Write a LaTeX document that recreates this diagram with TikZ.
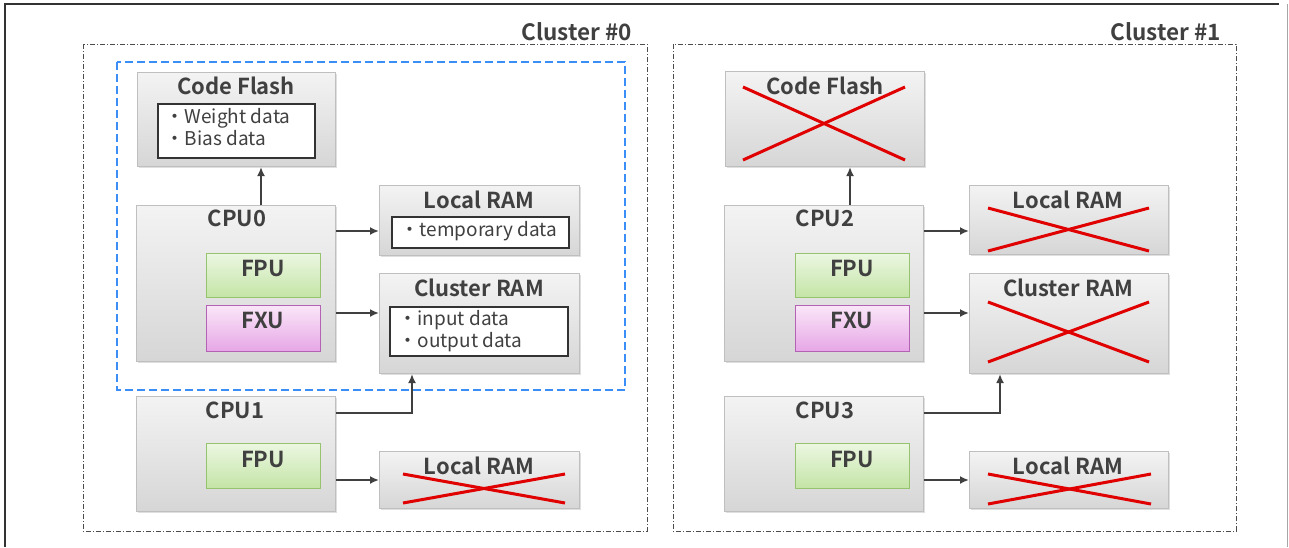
\documentclass[tikz,border=0pt]{standalone}
\usepackage{fontspec}
\setmainfont{Noto Sans CJK JP}[BoldFont={* Bold}]
\usetikzlibrary{arrows.meta,shadows}
\definecolor{txt}{HTML}{404040}
\definecolor{boxtop}{HTML}{F3F3F3}
\definecolor{boxbot}{HTML}{D6D6D6}
\definecolor{boxln}{HTML}{BFBFBF}
\definecolor{gtop}{HTML}{EBF7E1}
\definecolor{gbot}{HTML}{C4E4A6}
\definecolor{gln}{HTML}{96C46E}
\definecolor{ptop}{HTML}{FAE6F8}
\definecolor{pbot}{HTML}{E6A6E6}
\definecolor{pln}{HTML}{B462B4}
\definecolor{xred}{HTML}{E00000}
\definecolor{grpblue}{HTML}{3A8EF6}
\tikzset{
  unit/.style={draw=boxln, line width=1pt, top color=boxtop, bottom color=boxbot,
    inner sep=0pt, anchor=north west,
    drop shadow={shadow xshift=1pt, shadow yshift=-1.5pt, opacity=0.25}},
  fpubox/.style={draw=gln, line width=1pt, top color=gtop, bottom color=gbot,
    inner sep=0pt, anchor=north west},
  fxubox/.style={draw=pln, line width=1pt, top color=ptop, bottom color=pbot,
    inner sep=0pt, anchor=north west},
  inbox/.style={draw=txt!80!black, line width=2pt, fill=white, inner sep=0pt, anchor=north west},
  ttl/.style={text=txt, font=\fontsize{22}{24}\selectfont\bfseries, inner sep=0pt},
  cltl/.style={text=txt, font=\fontsize{22.5}{25}\selectfont\bfseries, inner sep=0pt, anchor=east},
  itxt/.style={text=txt, font=\fontsize{19}{22}\selectfont, inner sep=0pt, anchor=west, align=left},
  conn/.style={draw=txt, line width=2.5pt, -{Latex[length=9pt,width=8pt]}},
  xmark/.style={draw=xred, line width=3pt},
  clbox/.style={draw=black!70, line width=0.9pt, dash pattern=on 5pt off 2pt on 1pt off 2pt},
  grpbox/.style={draw=grpblue, line width=2.5pt, dash pattern=on 8pt off 4pt},
}
\begin{document}
\begin{tikzpicture}[x=1pt,y=-1pt]
\useasboundingbox (0,0) rectangle (1289,547);
% outer frame
\draw[black!80, line width=2pt] (5,547) -- (5,4) -- (1279,4);
\draw[black!35, line width=1pt] (1287,4) -- (1287,547);
% clusters
\draw[clbox] (83,44) rectangle (647,531);
\draw[clbox] (673,44) rectangle (1236,531);
\node[cltl] (c0lbl) at (632,32) {Cluster \#0};
\node[cltl] (c1lbl) at (1221,32) {Cluster \#1};
\draw[grpbox] (117,62) rectangle (625,390);

% ===== Cluster 0 =====
\node[unit, minimum width=198pt, minimum height=94pt] (cf0) at (137,72) {};
\node[ttl] (cf0t) at (236,86) {Code Flash};
\node[inbox, minimum width=157pt, minimum height=54pt] (cf0in) at (157,103) {};
\node[itxt] (cf0tx) at (165.5,127) {・Weight data\\・Bias data};

\node[unit, minimum width=199pt, minimum height=156pt] (cpu0) at (136,205) {};
\node[ttl] (cpu0t) at (237,218) {CPU0};
\node[fpubox, minimum width=114pt, minimum height=44pt] (fpu0) at (206,253) {};
\node[ttl] (fpu0t) at (263,268) {FPU};
\node[fxubox, minimum width=114pt, minimum height=46pt] (fxu0) at (206,305) {};
\node[ttl] (fxu0t) at (263,320) {FXU};

\node[unit, minimum width=200pt, minimum height=70pt] (lr0) at (379,185) {};
\node[ttl] (lr0t) at (479,200) {Local RAM};
\node[inbox, minimum width=177pt, minimum height=31pt] (lr0in) at (391,216) {};
\node[itxt] (lr0tx) at (400.5,231) {・temporary data};

\node[unit, minimum width=200pt, minimum height=100pt] (cr0) at (379,273) {};
\node[ttl] (cr0t) at (479,288) {Cluster RAM};
\node[inbox, minimum width=178pt, minimum height=49pt] (cr0in) at (389,306) {};
\node[itxt] (cr0tx) at (398.5,331) {・input data\\・output data};

\node[unit, minimum width=199pt, minimum height=115pt] (cpu1) at (136,396) {};
\node[ttl] (cpu1t) at (235,410) {CPU1};
\node[fpubox, minimum width=114pt, minimum height=45pt] (fpu1) at (206,443) {};
\node[ttl] (fpu1t) at (263,459) {FPU};

\node[unit, minimum width=200pt, minimum height=57pt] (lr1) at (379,451) {};
\node[ttl] (lr1t) at (479,466) {Local RAM};
\coordinate (lr1a) at (403,474); \coordinate (lr1b) at (565,503);
\coordinate (lr1c) at (403,503); \coordinate (lr1d) at (565,474);
\draw[xmark] (lr1a) -- (lr1b); \draw[xmark] (lr1c) -- (lr1d);

% connectors cluster 0
\draw[conn] (cpu0.north -| 261,0) -- (cf0.south -| 261,0);
\draw[conn] (cpu0.east |- 0,231) -- (lr0.west |- 0,231);
\draw[conn] (cpu0.east |- 0,313) -- (cr0.west |- 0,313);
\draw[conn] (cpu1.east |- 0,413) -| (cr0.south -| 412,0);
\draw[conn] (cpu1.east |- 0,480) -- (lr1.west |- 0,480);

% ===== Cluster 1 =====
\node[unit, minimum width=199pt, minimum height=95pt] (cf1) at (725,71) {};
\node[ttl] (cf1t) at (825,86) {Code Flash};
\coordinate (cf1a) at (743,87); \coordinate (cf1b) at (905,160);
\coordinate (cf1c) at (743,160); \coordinate (cf1d) at (905,87);
\draw[xmark] (cf1a) -- (cf1b); \draw[xmark] (cf1c) -- (cf1d);

\node[unit, minimum width=199pt, minimum height=156pt] (cpu2) at (724,205) {};
\node[ttl] (cpu2t) at (825,218) {CPU2};
\node[fpubox, minimum width=114pt, minimum height=44pt] (fpu2) at (795,253) {};
\node[ttl] (fpu2t) at (852,268) {FPU};
\node[fxubox, minimum width=114pt, minimum height=46pt] (fxu2) at (795,305) {};
\node[ttl] (fxu2t) at (852,320) {FXU};

\node[unit, minimum width=199pt, minimum height=69pt] (lr2) at (969,185) {};
\node[ttl] (lr2t) at (1068,200) {Local RAM};
\coordinate (lr2a) at (988,208); \coordinate (lr2b) at (1149,251);
\coordinate (lr2c) at (988,251); \coordinate (lr2d) at (1149,208);
\draw[xmark] (lr2a) -- (lr2b); \draw[xmark] (lr2c) -- (lr2d);

\node[unit, minimum width=199pt, minimum height=100pt] (cr2) at (969,273) {};
\node[ttl] (cr2t) at (1068,288) {Cluster RAM};
\coordinate (cr2a) at (988,302); \coordinate (cr2b) at (1149,362);
\coordinate (cr2c) at (988,362); \coordinate (cr2d) at (1149,302);
\draw[xmark] (cr2a) -- (cr2b); \draw[xmark] (cr2c) -- (cr2d);

\node[unit, minimum width=199pt, minimum height=115pt] (cpu3) at (724,396) {};
\node[ttl] (cpu3t) at (825,410) {CPU3};
\node[fpubox, minimum width=114pt, minimum height=45pt] (fpu3) at (795,443) {};
\node[ttl] (fpu3t) at (852,459) {FPU};

\node[unit, minimum width=199pt, minimum height=57pt] (lr3) at (969,451) {};
\node[ttl] (lr3t) at (1068,466) {Local RAM};
\coordinate (lr3a) at (988,474); \coordinate (lr3b) at (1151,504);
\coordinate (lr3c) at (988,504); \coordinate (lr3d) at (1151,474);
\draw[xmark] (lr3a) -- (lr3b); \draw[xmark] (lr3c) -- (lr3d);

% connectors cluster 1
\draw[conn] (cpu2.north -| 850,0) -- (cf1.south -| 850,0);
\draw[conn] (cpu2.east |- 0,231) -- (lr2.west |- 0,231);
\draw[conn] (cpu2.east |- 0,313) -- (cr2.west |- 0,313);
\draw[conn] (cpu3.east |- 0,413) -| (cr2.south -| 1000,0);
\draw[conn] (cpu3.east |- 0,480) -- (lr3.west |- 0,480);
\end{tikzpicture}
\end{document}
